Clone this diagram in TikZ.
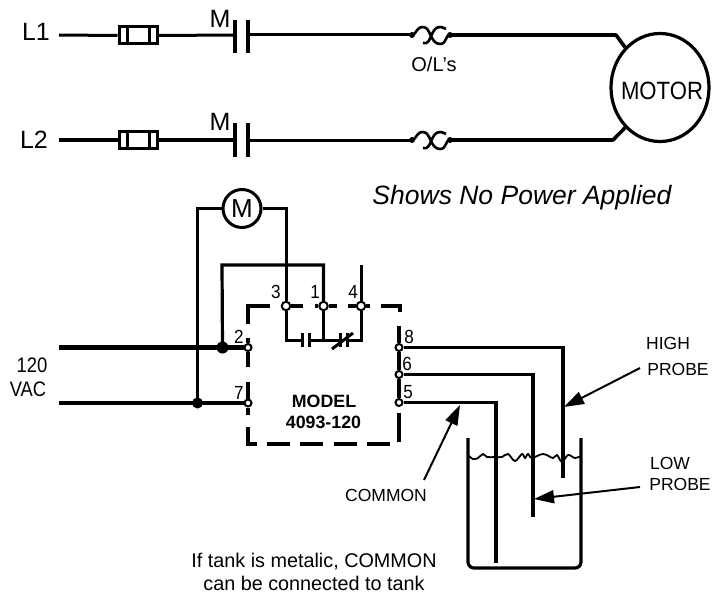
\documentclass[tikz,border=0pt]{standalone}
\usepackage{graphicx}
\usepackage{fontspec}
\setmainfont{Liberation Sans}
\usetikzlibrary{shapes.geometric,arrows.meta}
\newcommand{\sqz}[2]{\scalebox{#1}[1]{#2}}
\tikzset{
  txt/.style={font=\fontsize{#1}{#1}\selectfont,inner sep=0pt,text=black},
  wire/.style={line width=3pt,line cap=butt,line join=miter},
  heavy/.style={line width=4.6pt},
  plate/.style={line width=3.2pt},
  ptr/.style={line width=2pt,-{Triangle[length=20pt,width=13pt]}},
  term/.style={circle,draw,fill=white,line width=2pt,inner sep=0pt,minimum size=#1},
  junc/.style={circle,fill=black,inner sep=0pt,minimum size=#1},
  fusebox/.style={draw,fill=white,line width=3pt,minimum width=38pt,minimum height=17pt,inner sep=0pt},
  dashbit/.style={line width=3.2pt},
  tank/.style={line width=3.2pt,rounded corners=6pt},
  ol/.style={line width=2.6pt},
  oldot/.style={circle,fill=black,inner sep=0pt,minimum size=6pt}
}
% overload symbol: #1 = y, #2 = name prefix
\newcommand{\olsym}[2]{%
  \node[oldot] (#2a) at (412,#1) {};
  \node[oldot] (#2b) at (450,#1) {};
  \draw[ol] (#2a.center) .. controls (417,#1-1) and (416,#1-8) .. (423,#1-8)
     .. controls (431,#1-8) and (430,#1+9) .. (440,#1+9)
     .. controls (447,#1+9) and (445,#1) .. (#2b.center);
  \draw[ol] (423,#1+8) .. controls (432,#1+11) and (430,#1-8) .. (440,#1-8)
     .. controls (442,#1-8) and (444,#1-7) .. (446,#1-6);
}
% fuse: #1 = y, #2 = name
\newcommand{\fusesym}[2]{%
  \node[fusebox] (#2) at (138,#1) {};
  \draw[line width=3pt] (127,#1-8) -- (127,#1+8) (149,#1-8) -- (149,#1+8);
}
\begin{document}
\begin{tikzpicture}[x=1pt,y=-1pt]
\useasboundingbox (0,0) rectangle (722,594);
\fill[white] (0,0) rectangle (722,594);

% --- top power circuit ---
\node[txt=25] (l1) at (36,32) {L1};
\node[txt=25] (l2) at (34,140) {L2};
\coordinate (l1s) at (59,35);
\coordinate (l2s) at (59,140);
\fusesym{35.5}{f1}
\fusesym{140}{f2}
\coordinate (c1a) at (235,35);
\coordinate (c1b) at (248,35);
\coordinate (c2a) at (235,140);
\coordinate (c2b) at (248,140);
\olsym{35}{oa}
\olsym{140}{ob}
\node[ellipse,draw,line width=3.2pt,minimum width=98pt,minimum height=108pt,inner sep=0pt] (motor) at (660,87.5) {};
\node[txt=25] (mot) at (662,91) {\sqz{.885}{MOTOR}};
\coordinate (k1) at (616,35);
\coordinate (k2) at (613,140);

\draw[wire] (l1s) -- (f1.west) (f1.east) -- (c1a);
\draw[wire,line width=3.6pt] (l2s) -- (f2.west) (f2.east) -- (c2a);
\draw[plate] (235,20) -- (235,53) (248,20) -- (248,53);
\draw[plate] (235,123) -- (235,157) (248,123) -- (248,157);
\draw[wire] (c1b) -- (oaa.center);
\draw[wire] (c2b) -- (oba.center);
\draw[wire,line width=3.6pt,line join=round] (oab.center) -- (k1) -- (motor.131);
\draw[wire,line width=3.6pt,line join=round] (obb.center) -- (k2) -- (motor.229);

\node[txt=25] (m1) at (220,19) {M};
\node[txt=25] (m2) at (220,122) {M};
\node[txt=20] (oll) at (434,64) {O/L's};

\node[txt=26.5] (shows) at (522,198) {\itshape Shows No Power Applied};

% --- control circuit ---
\coordinate (v1) at (59,347.5);
\coordinate (v2) at (59,403);
\node[term=7pt] (t2) at (248,347.5) {};
\node[term=7pt] (t7) at (248,403) {};
\node[term=8.5pt] (t3) at (286,306) {};
\node[term=8.5pt] (t1) at (323.5,306) {};
\node[term=8.5pt] (t4) at (361,306) {};
\node[term=7pt] (t8) at (399,347.5) {};
\node[term=7pt] (t6) at (399,374.5) {};
\node[term=7pt] (t5) at (399,402.5) {};
\node[junc=12pt] (j2) at (222.5,347.5) {};
\node[junc=11pt] (j7) at (197.5,403) {};
\node[circle,draw,line width=3pt,fill=white,minimum size=38pt,inner sep=0pt] (coil) at (242,208.5) {};
\node[txt=26] at (coil.center) {M};

% wires to the box
\draw[heavy] (v1) -- (j2.center) -- (t2.west);
\draw[line width=4.2pt] (v2) -- (j7.center) -- (t7.west);
\draw[wire,line width=3.2pt] (coil.west) -- (197.5,208.5) -- (j7.center);
\draw[wire] (coil.east) -- (286,208.5) -- (t3.north);
\draw[wire,line width=3.2pt] (j2.center) -- (222,265) -- (323.5,265) -- (t1.north);
\draw[wire] (361,265) -- (t4.north);

% contacts below terminals
\coordinate (no1) at (302,340);
\coordinate (no2) at (309,340);
\coordinate (nc1) at (340,340);
\coordinate (nc2) at (347,340);
\draw[wire] (t3.south) -- (286,340) -- (no1);
\draw[wire] (no2) -- (nc1);
\draw[wire] (t1.south) -- (323.5,340);
\draw[wire] (t4.south) -- (361,340) -- (nc2);
\draw[wire] (302,333) -- (302,347) (309,333) -- (309,347);
\draw[wire] (340,333) -- (340,347) (347,333) -- (347,347);
\draw[wire] (332,349) -- (353,333);

% dashed module outline
\draw[dashbit] (248,324) -- (248,306) -- (270,306);
\draw[dashbit] (t3.east) -- (303,306);
\draw[dashbit] (315,306) -- (t1.west) (t1.east) -- (337,306);
\draw[dashbit] (348,306) -- (t4.west) (t4.east) -- (370,306);
\draw[dashbit] (381,306) -- (400,306) -- (400,312);
\draw[dashbit] (399,326) -- (t8.north);
\draw[dashbit] (t8.south) -- (t6.north);
\draw[dashbit] (t6.south) -- (t5.north);
\draw[dashbit] (399,413) -- (399,442);
\draw[dashbit] (248,338) -- (t2.north);
\draw[dashbit] (t2.south) -- (248,367);
\draw[dashbit] (248,382) -- (t7.north);
\draw[dashbit] (t7.south) -- (248,415);
\draw[dashbit] (248,427) -- (248,444) -- (257,444);
\draw[dashbit] (267,444) -- (290,444);
\draw[dashbit] (300,444) -- (323,444);
\draw[dashbit] (334,444) -- (357,444);
\draw[dashbit] (367,444) -- (390,444);

% probes
\draw[wire,line width=3.2pt] (t8.east) -- (563,347.5) -- (563,478);
\draw[wire,line width=3.2pt] (t6.east) -- (533,374.5) -- (533,517);
\draw[wire,line width=3.2pt] (t5.east) -- (496,402.5) -- (496,563);

% tank and water
\draw[tank] (468,438) -- (468,568) -- (581,568) -- (581,438);
\draw[line width=1.8pt] plot[smooth,tension=.6] coordinates {(468,455) (473,459) (478,458) (483,454) (487,457) (495,457) (502,457) (508,454) (515,461) (522,454) (525,458) (528,454) (532,458) (543,454) (553,458) (557,455) (562,462) (568,455) (575,458) (581,456)};

% pointers
\coordinate (hp) at (640,368);
\coordinate (hpt) at (564,407);
\coordinate (lp) at (640,487);
\coordinate (lpt) at (534,499);
\coordinate (cp) at (424,480);
\coordinate (cpt) at (460,405);
\draw[ptr] (hp) -- (hpt);
\draw[ptr] (lp) -- (lpt);
\draw[ptr] (cp) -- (cpt);

% labels
\node[txt=19] at (276,292) {\sqz{.9}{3}};
\node[txt=19] at (315,292) {\sqz{.9}{1}};
\node[txt=19] at (353,292) {\sqz{.9}{4}};
\node[txt=19] at (239,337) {\sqz{.9}{2}};
\node[txt=19] at (239,393) {\sqz{.9}{7}};
\node[txt=19] at (409,337) {\sqz{.9}{8}};
\node[txt=19] at (407,364) {\sqz{.9}{6}};
\node[txt=19] at (408,392) {\sqz{.9}{5}};
\node[txt=21] at (32,365) {\sqz{.88}{120}};
\node[txt=21] at (28,389) {\sqz{.87}{VAC}};
\node[txt=18,font=\fontsize{17.8}{18}\selectfont\bfseries] at (324,401) {MODEL};
\node[txt=18,font=\fontsize{17.8}{18}\selectfont\bfseries] at (323.5,422) {4093-120};
\node[txt=17.5] at (668,343) {HIGH};
\node[txt=17.5] at (678,369) {PROBE};
\node[txt=17.5] at (670,463) {LOW};
\node[txt=17.5] at (680,484) {PROBE};
\node[txt=17.5] at (386,495) {COMMON};
\node[txt=19.8] at (314,561.5) {If tank is metalic, COMMON};
\node[txt=19.8] at (314,583) {can be connected to tank};
\end{tikzpicture}
\end{document}
